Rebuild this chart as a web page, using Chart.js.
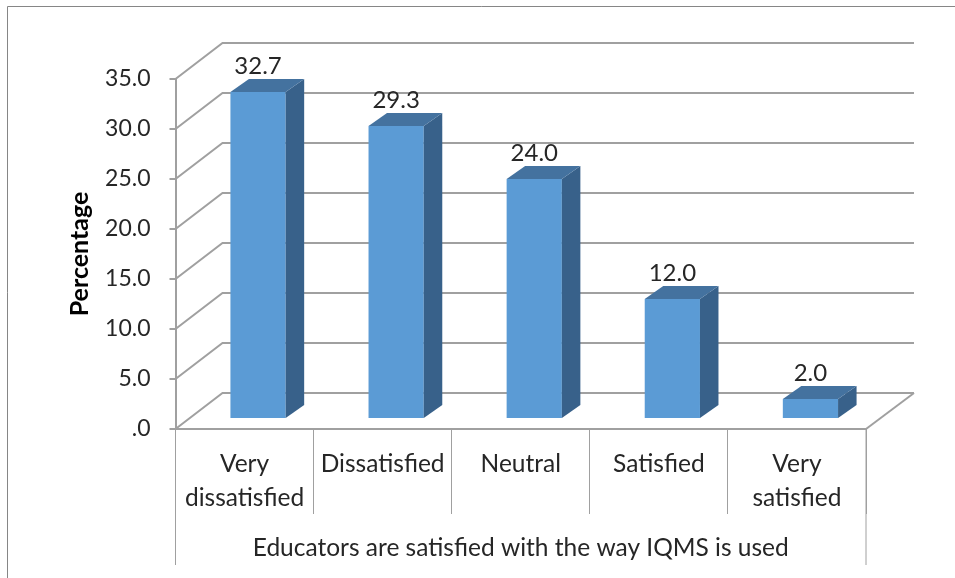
<!DOCTYPE html>
<html>
<head>
<meta charset="utf-8">
<style>
    html, body { margin: 0; padding: 0; background: #fff; overflow: hidden; }
    canvas { display: block; }
</style>
<script src="https://cdn.jsdelivr.net/npm/chart.js@4"></script>
</head>
<body>
<canvas id="myChart" width="955" height="578"></canvas>
<script>
const categories = [["Very", "dissatisfied"], "Dissatisfied", "Neutral", "Satisfied", ["Very", "satisfied"]];
const percentages = [32.7, 29.3, 24.0, 12.0, 2.0];
const tickLabels = [".0", "5.0", "10.0", "15.0", "20.0", "25.0", "30.0", "35.0"];

const fontName = "Lato, 'Open Sans', sans-serif";
const textColor = "#262626";
const lineColor = "#a0a0a0";

// 3D look: how far the back wall and the bars are pushed away from the front plane
const wallDx = 47, wallDy = -36;
const barShiftX = 13.5, barShiftY = -10;
const barDx = 18.5, barDy = -13;

const fake3d = {
    id: "fake3d",
    beforeDatasetsDraw(chart) {
        const { ctx, chartArea, scales } = chart;
        ctx.save();
        ctx.strokeStyle = lineColor;
        ctx.lineWidth = 2;
        // wall lines
        scales.y.ticks.forEach(t => {
            const y = scales.y.getPixelForValue(t.value);
            ctx.beginPath();
            ctx.moveTo(chartArea.left, y);
            ctx.lineTo(chartArea.left + wallDx, y + wallDy);
            ctx.lineTo(chartArea.right + wallDx + 1, y + wallDy);
            ctx.stroke();
        });
        // floor right edge
        ctx.beginPath();
        ctx.moveTo(chartArea.right, chartArea.bottom);
        ctx.lineTo(chartArea.right + wallDx + 1, chartArea.bottom + wallDy);
        ctx.stroke();
        // long outer lines of the category box
        ctx.lineWidth = 1;
        ctx.beginPath();
        ctx.moveTo(chartArea.left, chartArea.bottom);
        ctx.lineTo(chartArea.left, 565);
        ctx.moveTo(chartArea.right, chartArea.bottom);
        ctx.lineTo(chartArea.right, 565);
        ctx.stroke();
        // frame
        ctx.strokeStyle = "#868686";
        ctx.beginPath();
        ctx.moveTo(7.5, 578);
        ctx.lineTo(7.5, 6.5);
        ctx.lineTo(955, 6.5);
        ctx.stroke();
        ctx.restore();
    },
    beforeDatasetDraw(chart) {
        chart.ctx.save();
        chart.ctx.translate(barShiftX, barShiftY);
    },
    afterDatasetDraw(chart, args) {
        const ctx = chart.ctx;
        args.meta.data.forEach((bar, i) => {
            const left = bar.x - bar.width / 2, right = bar.x + bar.width / 2;
            // side face
            ctx.fillStyle = "#38618a";
            ctx.beginPath();
            ctx.moveTo(right, bar.y);
            ctx.lineTo(right + barDx, bar.y + barDy);
            ctx.lineTo(right + barDx, bar.base + barDy);
            ctx.lineTo(right, bar.base);
            ctx.closePath();
            ctx.fill();
            // top face
            ctx.fillStyle = "#44729f";
            ctx.beginPath();
            ctx.moveTo(left, bar.y);
            ctx.lineTo(left + barDx, bar.y + barDy);
            ctx.lineTo(right + barDx, bar.y + barDy);
            ctx.lineTo(right, bar.y);
            ctx.closePath();
            ctx.fill();
            // value label
            ctx.fillStyle = textColor;
            ctx.font = "24px " + fontName;
            ctx.textAlign = "center";
            ctx.textBaseline = "middle";
            ctx.fillText(percentages[i].toFixed(1), bar.x, bar.y - 26);
        });
        ctx.restore();
    }
};

new Chart(document.getElementById("myChart").getContext("2d"), {
    type: "bar",
    data: {
        labels: categories,
        datasets: [{
            data: percentages,
            backgroundColor: "#5b9bd5",
            categoryPercentage: 1,
            barPercentage: 0.4,
            clip: false
        }]
    },
    plugins: [fake3d],
    options: {
        responsive: false,
        animation: { duration: 0 },
        layout: { padding: { left: 65, top: 79, right: 89, bottom: 0 } },
        plugins: {
            legend: { display: false },
            title: { display: false },
            tooltip: { enabled: false }
        },
        scales: {
            x: {
                afterFit(s) { s.height = 149; },
                grid: { drawOnChartArea: false, tickLength: 85, color: lineColor, lineWidth: 1 },
                border: { color: lineColor, width: 2 },
                ticks: { color: textColor, font: { family: fontName, size: 24.5, lineHeight: 1.39 }, maxRotation: 0, autoSkip: false, padding: -67 },
                title: {
                    display: true,
                    text: "Educators are satisfied with the way IQMS is used",
                    color: textColor,
                    font: { family: fontName, size: 24.5 },
                    padding: { top: 0, bottom: 15 }
                }
            },
            y: {
                min: 0,
                max: 35,
                afterFit(s) { s.width = 110.5; },
                grid: { drawOnChartArea: false, tickLength: 6, color: lineColor, lineWidth: 2 },
                border: { color: lineColor, width: 2 },
                ticks: {
                    stepSize: 5,
                    color: textColor,
                    font: { family: fontName, size: 23 },
                    padding: 19,
                    callback: (v, i) => tickLabels[i]
                },
                title: {
                    display: true,
                    text: "Percentage",
                    color: "#000",
                    font: { family: fontName, size: 25, weight: "bold" },
                    padding: { top: 0, bottom: 0 }
                }
            }
        }
    }
});
</script>
</body>
</html>
